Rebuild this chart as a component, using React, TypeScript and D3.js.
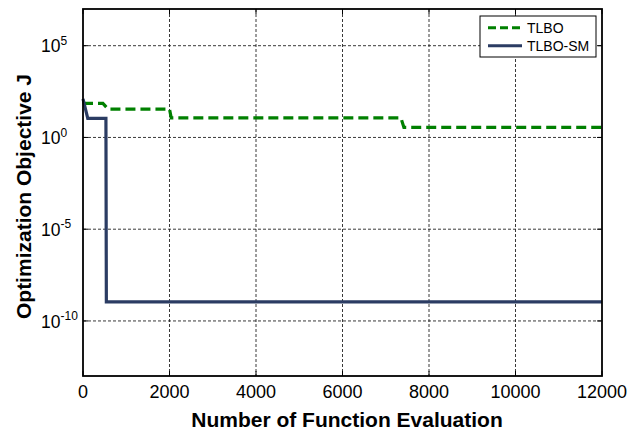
import React from 'react';
import * as d3 from 'd3';

const width = 629;
const height = 432;
const margin = { top: 9, right: 27, bottom: 56, left: 83 };

// data (stepwise convergence curves)
const tlboEvals = [0, 460, 580, 2000, 2040, 7350, 7420, 12000];
const tlboJ = [72, 72, 35, 35, 11.8, 11.8, 3.5, 3.5];
const smEvals = [0, 110, 530, 540, 12000];
const smJ = [125, 11, 11, 1.1e-9, 1.1e-9];

const xTicks = [0, 2000, 4000, 6000, 8000, 10000, 12000];
const yTickExps = [5, 0, -5, -10];
const seriesNames = ['TLBO', 'TLBO-SM'];

const font = 'Liberation Sans, Arial, sans-serif';

const App = () => {
  const iw = width - margin.left - margin.right;
  const ih = height - margin.top - margin.bottom;

  const x = d3.scaleLinear().domain([0, 12000]).range([0, iw]);
  const y = d3.scaleLog().domain([1e-13, 1e7]).range([ih, 0]);

  const line = d3.line<[number, number]>()
    .x(d => x(d[0]))
    .y(d => y(d[1]));

  const tlbo = tlboEvals.map((e, i) => [e, tlboJ[i]] as [number, number]);
  const sm = smEvals.map((e, i) => [e, smJ[i]] as [number, number]);

  return (
    <svg width={width} height={height} style={{ position: 'absolute', left: 0, top: 0, background: '#fff' }}>
      <g transform={`translate(${margin.left},${margin.top})`}>
        {/* grid */}
        {xTicks.slice(1, -1).map(t => (
          <line key={'gx' + t} x1={x(t)} x2={x(t)} y1={0} y2={ih} stroke="#222" strokeWidth={0.9} strokeDasharray="3,2" />
        ))}
        {yTickExps.map(e => (
          <line key={'gy' + e} x1={0} x2={iw} y1={y(Math.pow(10, e))} y2={y(Math.pow(10, e))} stroke="#222" strokeWidth={0.9} strokeDasharray="3,2" />
        ))}

        {/* series */}
        <path d={line(tlbo) || ''} fill="none" stroke="#008000" strokeWidth={3.2} strokeDasharray="10,5" />
        <path d={line(sm) || ''} fill="none" stroke="#2b3c63" strokeWidth={3.2} />

        {/* frame */}
        <rect x={0} y={0} width={iw} height={ih} fill="none" stroke="#000" strokeWidth={1.8} />

        {/* inner ticks */}
        {xTicks.map(t => (
          <g key={'tx' + t}>
            <line x1={x(t)} x2={x(t)} y1={ih} y2={ih - 5} stroke="#000" />
            <line x1={x(t)} x2={x(t)} y1={0} y2={5} stroke="#000" />
          </g>
        ))}
        {yTickExps.map(e => (
          <g key={'ty' + e}>
            <line x1={0} x2={5} y1={y(Math.pow(10, e))} y2={y(Math.pow(10, e))} stroke="#000" />
            <line x1={iw} x2={iw - 5} y1={y(Math.pow(10, e))} y2={y(Math.pow(10, e))} stroke="#000" />
          </g>
        ))}

        {/* x tick labels */}
        {xTicks.map(t => (
          <text key={'lx' + t} x={x(t)} y={ih + 22} textAnchor="middle" fontFamily={font} fontSize={18} fill="#000">
            {t}
          </text>
        ))}

        {/* y tick labels */}
        {yTickExps.map(e => (
          <text key={'ly' + e} x={-42} y={y(Math.pow(10, e)) + 6.6} textAnchor="start" fontFamily={font} fontSize={17.5} fill="#000">
            10<tspan dy={-7.5} fontSize={12}>{e}</tspan>
          </text>
        ))}

        {/* legend */}
        <g transform={`translate(${iw - 122},7)`}>
          <rect x={0} y={0} width={116} height={41} fill="#fff" stroke="#000" strokeWidth={1} />
          {seriesNames.map((n, i) => (
            <g key={n} transform={`translate(0,${11.7 + i * 18})`}>
              <line x1={8} x2={42} y1={0} y2={0}
                stroke={i === 0 ? '#008000' : '#2b3c63'} strokeWidth={3}
                strokeDasharray={i === 0 ? '8,4' : undefined} />
              <text x={47} y={5} fontFamily={font} fontSize={14} fill="#000">{n}</text>
            </g>
          ))}
        </g>
      </g>

      {/* axis titles */}
      <text x={347} y={427} textAnchor="middle" fontFamily={font} fontSize={21} fontWeight="bold" fill="#000">
        Number of Function Evaluation
      </text>
      <text transform="translate(31,196.5) rotate(-90)" textAnchor="middle" fontFamily={font} fontSize={21} fontWeight="bold" fill="#000">
        Optimization Objective J
      </text>
    </svg>
  );
};

export default App;
